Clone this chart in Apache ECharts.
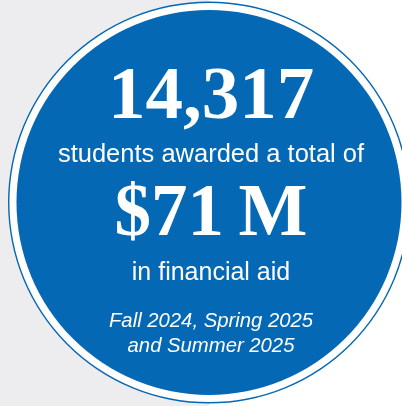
<!DOCTYPE html>
<html>
<head>
<meta charset="utf-8">
<script src="https://cdn.jsdelivr.net/npm/echarts@6/dist/echarts.min.js"></script>
<style>
html,body{margin:0;padding:0;background:#ffffff;}
#chart{width:402px;height:406px;}
</style>
</head>
<body>
<div id="chart"></div>
<script>
// Content
var headlineValues = ['14,317', '$71\u2009M'];
var sentenceLines = ['students awarded a total of', 'in financial aid'];
var periodLines = ['Fall 2024, Spring 2025', 'and Summer 2025'];
var circleShare = [1];

var BLUE = '#0468B4';
var GRAY = '#EDEDEF';
var chart = echarts.init(document.getElementById('chart'), null, {renderer: 'canvas'});

var cx = 209, cy = 202.5;
function txt(text, y, size, font, weight, style) {
  return {
    type: 'text', x: cx + 2, y: y, silent: true, z: 10,
    style: {
      text: text, fill: '#ffffff', align: 'center', verticalAlign: 'middle',
      font: (style || 'normal') + ' ' + (weight || 'normal') + ' ' + size + 'px ' + font
    }
  };
}

chart.setOption({
  animation: false,
  backgroundColor: '#ffffff',
  graphic: [
    {type: 'rect', shape: {x: 0, y: 0, width: 209, height: 406}, style: {fill: GRAY}, z: -10, silent: true},
    txt(headlineValues[0], 99, 75, '"Liberation Serif", serif', 'bold'),
    txt(sentenceLines[0], 155, 25.5, '"Liberation Sans", Arial, sans-serif'),
    txt(headlineValues[1], 216, 73, '"Liberation Serif", serif', 'bold'),
    txt(sentenceLines[1], 273, 25, '"Liberation Sans", Arial, sans-serif'),
    txt(periodLines[0], 321, 20.3, '"Liberation Sans", Arial, sans-serif', 'normal', 'italic'),
    txt(periodLines[1], 346, 20.3, '"Liberation Sans", Arial, sans-serif', 'normal', 'italic')
  ],
  series: [
    {
      type: 'pie', silent: true, center: [cx, cy], radius: [0, 192.5],
      label: {show: false}, labelLine: {show: false},
      itemStyle: {color: BLUE, borderWidth: 0},
      data: circleShare.map(function (v) { return {value: v}; })
    },
    {
      type: 'pie', silent: true, center: [cx, cy], radius: [199.6, 201],
      label: {show: false}, labelLine: {show: false},
      itemStyle: {color: BLUE, borderWidth: 0},
      data: circleShare.map(function (v) { return {value: v}; })
    },
    {
      type: 'pie', silent: true, center: [cx, cy], radius: [192.5, 199.6], z: 1,
      label: {show: false}, labelLine: {show: false},
      itemStyle: {color: '#ffffff', borderWidth: 0},
      data: circleShare.map(function (v) { return {value: v}; })
    }
  ]
});
</script>
</body>
</html>
